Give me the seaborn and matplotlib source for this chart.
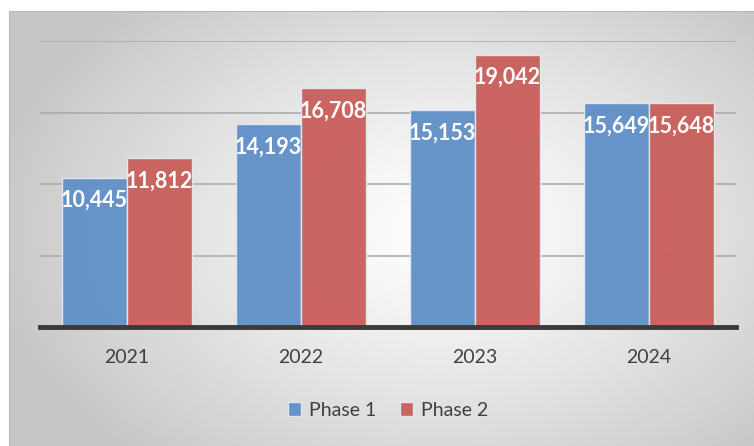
import numpy as np
import pandas as pd
import matplotlib.pyplot as plt
import seaborn as sns
from matplotlib.colors import LinearSegmentedColormap

years = ["2021", "2022", "2023", "2024"]
phase1 = [10445, 14193, 15153, 15649]
phase2 = [11812, 16708, 19042, 15648]
phases = ["Phase 1", "Phase 2"]
colors = ["#6291c8", "#c9615d"]

df = pd.DataFrame({
    "year": years * 2,
    "value": phase1 + phase2,
    "phase": [phases[0]] * len(years) + [phases[1]] * len(years),
})

sns.set_style("white")
plt.rcParams["font.family"] = ["Lato", "DejaVu Sans"]

fig = plt.figure(figsize=(7.54, 4.46), dpi=100)

# radial gray background behind the chart frame (white in the middle)
bg = fig.add_axes([9 / 754, 0, 1 - 9 / 754, 1 - 11 / 446], zorder=-10)
yy, xx = np.mgrid[0:1:300j, 0:1:500j]
r = np.sqrt(((xx - 0.58) / 0.62) ** 2 + ((yy - 0.5) / 0.72) ** 2)
r = np.clip(r, 0, 1) ** 1.2
cmap = LinearSegmentedColormap.from_list("bg", ["#ffffff", "#c6c6c6"])
bg.imshow(r, cmap=cmap, extent=[0, 1, 0, 1], aspect="auto", origin="lower",
          vmin=0, vmax=1)
bg.set_xticks([])
bg.set_yticks([])
for s in bg.spines.values():
    s.set_visible(False)
bg.spines["top"].set_visible(True)
bg.spines["left"].set_visible(True)
bg.spines["top"].set_color("#b8b8b8")
bg.spines["left"].set_color("#b8b8b8")

ax = fig.add_axes([40 / 754, 1 - 327 / 446, 696 / 754, 286 / 446])
ax.patch.set_alpha(0)

sns.barplot(data=df, x="year", y="value", hue="phase", palette=colors,
            width=0.75, ax=ax, alpha=0.97, edgecolor="#e4e8ee", linewidth=1,
            saturation=1, zorder=3)

ax.set_ylim(0, 20000)
ax.set_xlim(-0.5, 3.5)
ax.set_yticks([5000, 10000, 15000, 20000])
ax.yaxis.grid(True, color="#a8a8a8", linewidth=1.3, alpha=0.85, zorder=1)
ax.set_axisbelow(True)
ax.set_yticklabels([])
ax.tick_params(axis="y", length=0)
ax.tick_params(axis="x", length=0, labelsize=14, colors="#404040", pad=16)
ax.set_xlabel("")
ax.set_ylabel("")
for s in ["top", "right", "left"]:
    ax.spines[s].set_visible(False)
ax.spines["bottom"].set_color("#3a3a3a")
ax.spines["bottom"].set_linewidth(3.5)
ax.spines["bottom"].set_zorder(5)

for cont in ax.containers:
    for bar in cont:
        h = bar.get_height()
        ax.annotate(f"{h:,.0f}", (bar.get_x() + bar.get_width() / 2, h),
                    xytext=(0, -9), textcoords="offset points",
                    ha="center", va="top", color="white",
                    fontsize=15.5, fontweight="bold", zorder=6)

ax.legend(loc="upper center", bbox_to_anchor=(0.5, -0.2), ncol=2,
          frameon=False, fontsize=14, handlelength=0.7, handleheight=0.7,
          handletextpad=0.4, columnspacing=1.2, labelcolor="#404040")

fig.savefig("out.png", dpi=100)
